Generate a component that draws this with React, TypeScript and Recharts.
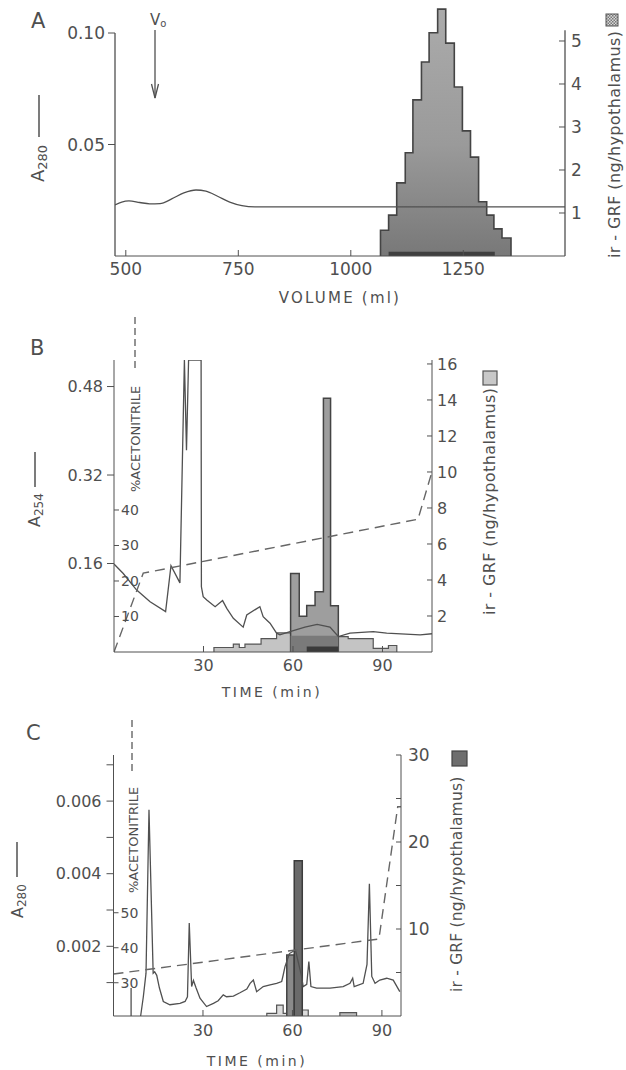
import React from 'react';
import { ComposedChart, Line, Area, XAxis, YAxis, ReferenceLine } from 'recharts';

// ---------- Panel A : gel filtration ----------
const aVolume = [476, 491, 507, 531, 553, 576, 602, 629, 656, 678, 704, 731, 758, 787, 1476];
const aA280 = [0.0229, 0.0242, 0.0247, 0.024, 0.0234, 0.0235, 0.0256, 0.0283, 0.0296, 0.0291, 0.0268, 0.0242, 0.0226, 0.022, 0.022];
const aFracEdges = [1066, 1084, 1102, 1121, 1138, 1157, 1174, 1193, 1211, 1230, 1248, 1266, 1284, 1302, 1318, 1336, 1356];
const aGRF = [0.6, 0.95, 1.7, 2.4, 3.63, 4.51, 5.19, 5.74, 4.95, 3.93, 2.91, 2.3, 1.26, 0.95, 0.63, 0.42];
const aDarkEdges = [1084, 1320];
const aDarkGRF = [0.1];
const aXTicks = [500, 750, 1000, 1250];
const aLeftTicks = [0.05, 0.1];
const aRightTicks = [1, 2, 3, 4, 5];

// ---------- Panel B : HPLC 1 ----------
const bTime = [0, 3.1, 7.6, 12.1, 17.3, 19.1, 22.1, 23.6, 24.3, 25.0, 29.2, 29.3, 29.9, 31.1, 33.9, 36.4, 37.8, 40.0, 43.3, 44.5, 48.9, 50.0, 52.3, 54.5, 55.6, 59.0, 64.0, 68.1, 72.4, 75.2, 79.1, 86.9, 91.4, 102.6, 106.6];
const bA254 = [0.159, 0.142, 0.112, 0.091, 0.073, 0.156, 0.125, 0.528, 0.365, 0.528, 0.528, 0.118, 0.1, 0.094, 0.082, 0.093, 0.079, 0.061, 0.045, 0.067, 0.082, 0.064, 0.052, 0.034, 0.031, 0.037, 0.045, 0.05, 0.045, 0.028, 0.034, 0.037, 0.034, 0.031, 0.033];
const bAcnTime = [0, 9.8, 101.9, 106.6];
const bAcn = [0, 22.2, 37.4, 50.8];
const bLightEdges = [33.5, 40.0, 42.0, 43.9, 49.3, 54.5, 59.2, 75.2, 78.5, 86.9, 92.0, 94.8];
const bLightGRF = [0.25, 0.44, 0.25, 0.44, 0.74, 1.06, 1.2, 0.85, 0.74, 0.2, 0.36];
const bMidEdges = [59.2, 62.1, 64.6, 67.4, 70.2, 72.6, 75.2];
const bMidGRF = [4.36, 1.99, 2.58, 3.34, 14.1, 2.57];
const bInnerEdges = [59.2, 75.2];
const bInnerGRF = [0.9];
const bDarkEdges = [64.6, 75.2];
const bDarkGRF = [0.3];
const bXTicks = [30, 60, 90];
const bLeftTicks = [0.16, 0.32, 0.48];
const bAcnTicks = [10, 20, 30, 40];
const bRightTicks = [2, 4, 6, 8, 10, 12, 14, 16];

// ---------- Panel C : HPLC 2 ----------
const cTime = [9.1, 10.0, 10.9, 11.9, 13.3, 13.8, 14.5, 15.4, 16.7, 18.9, 22.3, 24.0, 24.8, 25.4, 26.2, 26.8, 27.7, 29.0, 31.2, 33.5, 35.1, 36.8, 37.9, 40.2, 42.4, 44.7, 45.8, 46.9, 48.0, 50.2, 52.5, 54.7, 56.4, 56.9, 57.5, 59.0, 61.0, 63.0, 63.6, 64.8, 65.5, 66.2, 68.1, 72.6, 77.0, 79.3, 80.2, 80.7, 83.7, 85.0, 85.8, 86.6, 87.7, 89.3, 91.6, 93.8, 96.0];
const cA280 = [0.00008, 0.00061, 0.00126, 0.00576, 0.00126, 0.0013, 0.0012, 0.00085, 0.00048, 0.00039, 0.00043, 0.00048, 0.00061, 0.00264, 0.00089, 0.00106, 0.00085, 0.00057, 0.00034, 0.00043, 0.0005, 0.00066, 0.00061, 0.00063, 0.00072, 0.00082, 0.00098, 0.00107, 0.00075, 0.00089, 0.00094, 0.00098, 0.00103, 0.00121, 0.00144, 0.0018, 0.0019, 0.0012, 0.00089, 0.00095, 0.00158, 0.00089, 0.00085, 0.00085, 0.00089, 0.00098, 0.00112, 0.00089, 0.00098, 0.0015, 0.00372, 0.00117, 0.00098, 0.00107, 0.00112, 0.00107, 0.00075];
const cMarkTime = [5.9, 5.9];
const cMarkA280 = [0.00008, 0.00085];
const cAcnTime = [0, 89.0, 95.3, 96.4];
const cAcn = [32.5, 42.5, 80.3, 80.3];
const cLightEdges = [51.4, 54.7, 56.9, 58.1, 63.3, 65.3];
const cLightGRF = [0.31, 1.26, 0.31, 2.5, 0.69];
const cMidEdges = [58.1, 60.6];
const cMidGRF = [7.0];
const cDarkEdges = [60.6, 63.3];
const cDarkGRF = [17.85];
const cSmallEdges = [75.9, 81.5];
const cSmallGRF = [0.38];
const cXTicks = [30, 60, 90];
const cLeftTicks = [0.001, 0.002, 0.003, 0.004, 0.005, 0.006, 0.007];
const cAcnTicks = [30, 40, 50];
const cRightTicks = [5, 10, 15, 20, 25, 30];

// ---------- helpers ----------
const zip = (xs: number[], ys: number[]) => xs.map((x, i) => ({ x, y: ys[i] }));
function stepPts(edges: number[], vals: number[]) {
  const pts = [{ x: edges[0], y: 0 }];
  vals.forEach((v, i) => {
    pts.push({ x: edges[i], y: v });
    pts.push({ x: edges[i + 1], y: v });
  });
  pts.push({ x: edges[edges.length - 1], y: 0 });
  return pts;
}

const INK = '#505050';
const TXT = '#4f4f4f';
const tickStyle = (fs: number) => ({ fill: TXT, fontSize: fs });

function PanelA() {
  return (
    <ComposedChart width={626} height={300} margin={{ top: 5, right: 21, bottom: 4, left: 55 }}>
      <XAxis type="number" dataKey="x" domain={[476, 1476]} ticks={aXTicks} interval={0} allowDataOverflow
        height={40} tickSize={-6} tickMargin={13} stroke={INK} tick={tickStyle(17)} />
      <YAxis yAxisId="l" orientation="left" width={60} domain={[0, 0.11256]} ticks={aLeftTicks} interval={0}
        allowDataOverflow axisLine={false} tickSize={7} tickMargin={3} stroke={INK} tick={tickStyle(17)}
        tickFormatter={(v: number) => v.toFixed(2)} />
      <YAxis yAxisId="r" orientation="right" width={40} domain={[0, 5.837]} ticks={aRightTicks} interval={0}
        allowDataOverflow axisLine={false} tickSize={-6} tickMargin={12} stroke={INK} tick={tickStyle(17)} />
      <ReferenceLine yAxisId="l" ifOverflow="visible" segment={[{ x: 476, y: 0 }, { x: 476, y: 0.1 }]} stroke={INK} strokeWidth={1.3} />
      <ReferenceLine yAxisId="r" ifOverflow="visible" segment={[{ x: 1476, y: 0 }, { x: 1476, y: 5.25 }]} stroke={INK} strokeWidth={1.3} />
      <Area yAxisId="r" type="linear" data={stepPts(aFracEdges, aGRF)} dataKey="y" fill="url(#gradA)" fillOpacity={1}
        stroke="#444" strokeWidth={1.6} dot={false} activeDot={false} isAnimationActive={false} />
      <Area yAxisId="r" type="linear" data={stepPts(aDarkEdges, aDarkGRF)} dataKey="y" fill="#3f3f3f" fillOpacity={1}
        stroke="none" baseValue={-0.05} dot={false} activeDot={false} isAnimationActive={false} />
      <Line yAxisId="l" type="monotone" data={zip(aVolume, aA280)} dataKey="y" stroke={INK} strokeWidth={1.3}
        dot={false} activeDot={false} isAnimationActive={false} />
    </ComposedChart>
  );
}

function PanelB() {
  return (
    <ComposedChart width={626} height={400} margin={{ top: 60, right: 154, bottom: 8, left: 54 }}>
      <XAxis type="number" dataKey="x" domain={[0, 106.6]} ticks={bXTicks} interval={0} allowDataOverflow
        height={40} tickSize={-6} tickMargin={14} stroke={INK} tick={tickStyle(16)} />
      <YAxis yAxisId="acn" orientation="left" mirror width={40} domain={[0, 82.25]} ticks={bAcnTicks} interval={0}
        allowDataOverflow axisLine={false} tickSize={5} tickMargin={2} stroke={INK} tick={tickStyle(14)} />
      <YAxis yAxisId="l" orientation="left" width={60} domain={[0, 0.528]} ticks={bLeftTicks} interval={0}
        allowDataOverflow tickSize={7} tickMargin={4} stroke={INK} tick={tickStyle(16)}
        tickFormatter={(v: number) => v.toFixed(2)} />
      <YAxis yAxisId="r" orientation="right" width={40} domain={[0, 16.22]} ticks={bRightTicks} interval={0}
        allowDataOverflow tickSize={-5} tickMargin={10} stroke={INK} tick={tickStyle(16)} />
      <Area yAxisId="r" type="linear" data={stepPts(bLightEdges, bLightGRF)} dataKey="y" fill="#c4c4c4" fillOpacity={1}
        stroke="#555" strokeWidth={1.2} dot={false} activeDot={false} isAnimationActive={false} />
      <Area yAxisId="r" type="linear" data={stepPts(bMidEdges, bMidGRF)} dataKey="y" fill="#9e9e9e" fillOpacity={1}
        stroke="#444" strokeWidth={1.5} dot={false} activeDot={false} isAnimationActive={false} />
      <Area yAxisId="r" type="linear" data={stepPts(bInnerEdges, bInnerGRF)} dataKey="y" fill="#7a7a7a" fillOpacity={1}
        stroke="none" dot={false} activeDot={false} isAnimationActive={false} />
      <Area yAxisId="r" type="linear" data={stepPts(bDarkEdges, bDarkGRF)} dataKey="y" fill="#3a3a3a" fillOpacity={1}
        stroke="none" baseValue={-0.28} dot={false} activeDot={false} isAnimationActive={false} />
      <Line yAxisId="l" type="linear" data={zip(bTime, bA254)} dataKey="y" stroke={INK} strokeWidth={1.3}
        dot={false} activeDot={false} isAnimationActive={false} />
      <Line yAxisId="acn" type="linear" data={zip(bAcnTime, bAcn)} dataKey="y" stroke="#666" strokeWidth={1.4}
        strokeDasharray="10 6" dot={false} activeDot={false} isAnimationActive={false} />
    </ComposedChart>
  );
}

function PanelC() {
  return (
    <ComposedChart width={626} height={370} margin={{ top: 55, right: 185, bottom: 14, left: 53.5 }}>
      <XAxis type="number" dataKey="x" domain={[0, 96.4]} ticks={cXTicks} interval={0} allowDataOverflow
        height={40} tickSize={-6} tickMargin={15} stroke={INK} tick={tickStyle(16)} />
      <YAxis yAxisId="acn" orientation="left" mirror width={40} domain={[20.5, 95.07]} ticks={cAcnTicks} interval={0}
        allowDataOverflow axisLine={false} tickSize={5} tickMargin={2} stroke={INK} tick={tickStyle(14)} />
      <YAxis yAxisId="l" orientation="left" width={60} domain={[0.00008, 0.00727]} ticks={cLeftTicks} interval={0}
        allowDataOverflow tickSize={7} tickMargin={5} stroke={INK} tick={tickStyle(16)}
        tickFormatter={(v: number) => (Math.round(v * 1000) % 2 === 0 ? v.toFixed(3) : '')} />
      <YAxis yAxisId="r" orientation="right" width={40} domain={[0, 30]} ticks={cRightTicks} interval={0}
        allowDataOverflow tickSize={-5} tickMargin={12} stroke={INK} tick={tickStyle(17)}
        tickFormatter={(v: number) => (v % 10 === 0 ? String(v) : '')} />
      <Line yAxisId="l" type="linear" data={zip(cMarkTime, cMarkA280)} dataKey="y" stroke={INK} strokeWidth={1.3}
        dot={false} activeDot={false} isAnimationActive={false} />
      <Line yAxisId="l" type="linear" data={zip(cTime, cA280)} dataKey="y" stroke={INK} strokeWidth={1.3}
        dot={false} activeDot={false} isAnimationActive={false} />
      <Area yAxisId="r" type="linear" data={stepPts(cLightEdges, cLightGRF)} dataKey="y" fill="#dcdcdc" fillOpacity={1}
        stroke="#555" strokeWidth={1.2} dot={false} activeDot={false} isAnimationActive={false} />
      <Area yAxisId="r" type="linear" data={stepPts(cMidEdges, cMidGRF)} dataKey="y" fill="#8a8a8a" fillOpacity={1}
        stroke="#444" strokeWidth={1.5} dot={false} activeDot={false} isAnimationActive={false} />
      <Area yAxisId="r" type="linear" data={stepPts(cDarkEdges, cDarkGRF)} dataKey="y" fill="#6a6a6a" fillOpacity={1}
        stroke="#3c3c3c" strokeWidth={1.5} dot={false} activeDot={false} isAnimationActive={false} />
      <Area yAxisId="r" type="linear" data={stepPts(cSmallEdges, cSmallGRF)} dataKey="y" fill="#bdbdbd" fillOpacity={1}
        stroke="#555" strokeWidth={1.2} dot={false} activeDot={false} isAnimationActive={false} />
      <Line yAxisId="acn" type="linear" data={zip(cAcnTime, cAcn)} dataKey="y" stroke="#666" strokeWidth={1.4}
        strokeDasharray="10 6" dot={false} activeDot={false} isAnimationActive={false} />
    </ComposedChart>
  );
}

function Overlay() {
  const t = { fill: TXT };
  return (
    <svg width={626} height={1070} style={{ position: 'absolute', left: 0, top: 0, pointerEvents: 'none' }}>
      <defs>
        <linearGradient id="gradA" x1="0" y1="0" x2="0" y2="1">
          <stop offset="0%" stopColor="#ababab" />
          <stop offset="55%" stopColor="#9a9a9a" />
          <stop offset="100%" stopColor="#787878" />
        </linearGradient>
        <pattern id="chk" width="3" height="3" patternUnits="userSpaceOnUse">
          <rect width="3" height="3" fill="#d8d8d8" />
          <rect width="1.5" height="1.5" fill="#777" />
          <rect x="1.5" y="1.5" width="1.5" height="1.5" fill="#777" />
        </pattern>
      </defs>
      {/* Panel A */}
      <text x={31} y={28} fontSize={21} {...t}>A</text>
      <text x={150} y={25} fontSize={15} {...t}>V<tspan fontSize={10} dy={2}>o</tspan></text>
      <line x1={155} y1={30} x2={155} y2={98} stroke={INK} strokeWidth={1.3} />
      <path d="M151.5,84 L155,98 L158.5,84" fill="none" stroke={INK} strokeWidth={1.3} />
      <text transform="translate(44,182) rotate(-90)" fontSize={18} {...t}>A<tspan fontSize={13} dy={3}>280</tspan></text>
      <line x1={39} y1={95} x2={39} y2={137} stroke={INK} strokeWidth={1.5} />
      <text transform="translate(620,258) rotate(-90)" fontSize={16} letterSpacing={0.4} {...t}>ir - GRF (ng/hypothalamus)</text>
      <rect x={606} y={14} width={12} height={12} fill="url(#chk)" stroke="#555" strokeWidth={1} />
      <text x={340} y={303} fontSize={15} letterSpacing={2.2} textAnchor="middle" {...t}>VOLUME (ml)</text>

      {/* Panel B */}
      <text x={30} y={355} fontSize={21} {...t}>B</text>
      <text transform="translate(40,527) rotate(-90)" fontSize={16} {...t}>A<tspan fontSize={12} dy={3}>254</tspan></text>
      <line x1={35} y1={452} x2={35} y2={487} stroke={INK} strokeWidth={1.5} />
      <text transform="translate(140,492) rotate(-90)" fontSize={13} {...t}>%ACETONITRILE</text>
      <line x1={135} y1={317} x2={135} y2={370} stroke="#666" strokeWidth={1.4} strokeDasharray="7 4" />
      <text transform="translate(495,615) rotate(-90)" fontSize={16} letterSpacing={0.4} {...t}>ir - GRF (ng/hypothalamus)</text>
      <rect x={483} y={371} width={14} height={14} fill="#c8c8c8" stroke="#555" strokeWidth={1.2} />
      <text x={272} y={697} fontSize={14} letterSpacing={2.5} textAnchor="middle" {...t}>TIME (min)</text>

      {/* Panel C */}
      <text x={26} y={740} fontSize={21} {...t}>C</text>
      <text transform="translate(23,918) rotate(-90)" fontSize={16} {...t}>A<tspan fontSize={12} dy={3}>280</tspan></text>
      <line x1={17} y1={842} x2={17} y2={877} stroke={INK} strokeWidth={1.5} />
      <text transform="translate(138,893) rotate(-90)" fontSize={13} {...t}>%ACETONITRILE</text>
      <line x1={132} y1={720} x2={132} y2={772} stroke="#666" strokeWidth={1.4} strokeDasharray="7 4" />
      <text transform="translate(462,992) rotate(-90)" fontSize={15.5} letterSpacing={0.2} {...t}>ir - GRF (ng/hypothalamus)</text>
      <rect x={452} y={751} width={15} height={15} fill="#6e6e6e" stroke="#444" strokeWidth={1.2} />
      <text x={257} y={1066} fontSize={14} letterSpacing={2.5} textAnchor="middle" {...t}>TIME (min)</text>
    </svg>
  );
}

export default function App() {
  return (
    <div style={{ position: 'absolute', left: 0, top: 0, width: 626, height: 1070, background: '#fff', fontFamily: '"DejaVu Sans", sans-serif', overflow: 'hidden' }}>
      <div style={{ position: 'absolute', left: 0, top: 0 }}><PanelA /></div>
      <div style={{ position: 'absolute', left: 0, top: 300 }}><PanelB /></div>
      <div style={{ position: 'absolute', left: 0, top: 700 }}><PanelC /></div>
      <Overlay />
    </div>
  );
}
